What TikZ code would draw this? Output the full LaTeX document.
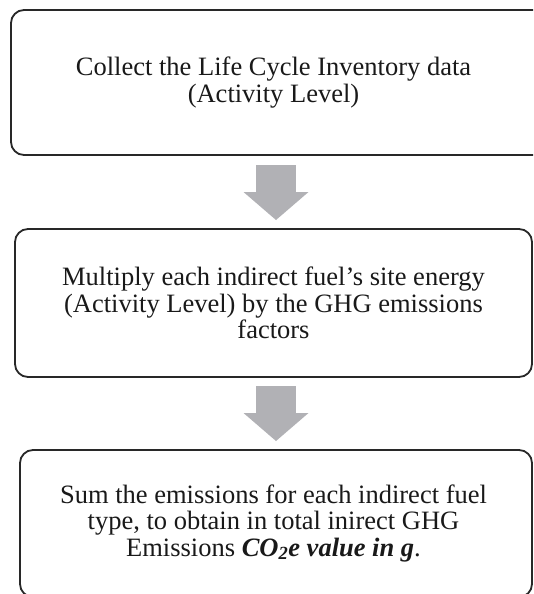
\documentclass[tikz,border=0pt]{standalone}
\usepackage{fontspec}
\setmainfont{Liberation Serif}
\usetikzlibrary{arrows.meta}
\definecolor{arrowgray}{RGB}{177,177,181}
\definecolor{framegray}{RGB}{40,40,40}
\definecolor{textgray}{RGB}{25,25,25}
\tikzset{
  framebox/.style={draw=framegray, line width=1.8pt, rounded corners=13pt,
    inner sep=0pt},
  steptext/.style={inner sep=0pt, align=center, text=textgray,
    font=\fontsize{26.5}{26.5}\selectfont},
  flowarrow/.style={draw=arrowgray, line width=40pt,
    -{Triangle[width=65pt,length=28pt,line width=0pt]}}
}
\begin{document}
\begin{tikzpicture}[x=1pt,y=-1pt]
\useasboundingbox (0,0) rectangle (533,594);
\clip (0,0) rectangle (533,594);
\fill[white] (0,0) rectangle (533,594);
\node[framebox, minimum width=549pt, minimum height=145pt] (b1) at (285.5,82.5) {};
\node[framebox, minimum width=517pt, minimum height=148pt] (b2) at (273.5,303) {};
\node[framebox, minimum width=512pt, minimum height=147pt] (b3) at (276,523.5) {};
\node[steptext] (t1) at (273.5,82.5)
  {Collect the Life Cycle Inventory data\\(Activity Level)};
\node[steptext] (t2) at (273.5,303)
  {Multiply each indirect fuel’s site energy\\(Activity Level) by the GHG emissions\\factors};
\node[steptext] (t3) at (273.5,523)
  {Sum the emissions for each indirect fuel\\type, to obtain in total inirect GHG\\Emissions \textbf{\textit{CO\textsubscript{2}e value in g}}.};
\coordinate (a1s) at (276,165);
\coordinate (a1e) at (276,220);
\coordinate (a2s) at (276,386);
\coordinate (a2e) at (276,441);
\draw[flowarrow] (a1s) -- (a1e);
\draw[flowarrow] (a2s) -- (a2e);
\end{tikzpicture}
\end{document}
